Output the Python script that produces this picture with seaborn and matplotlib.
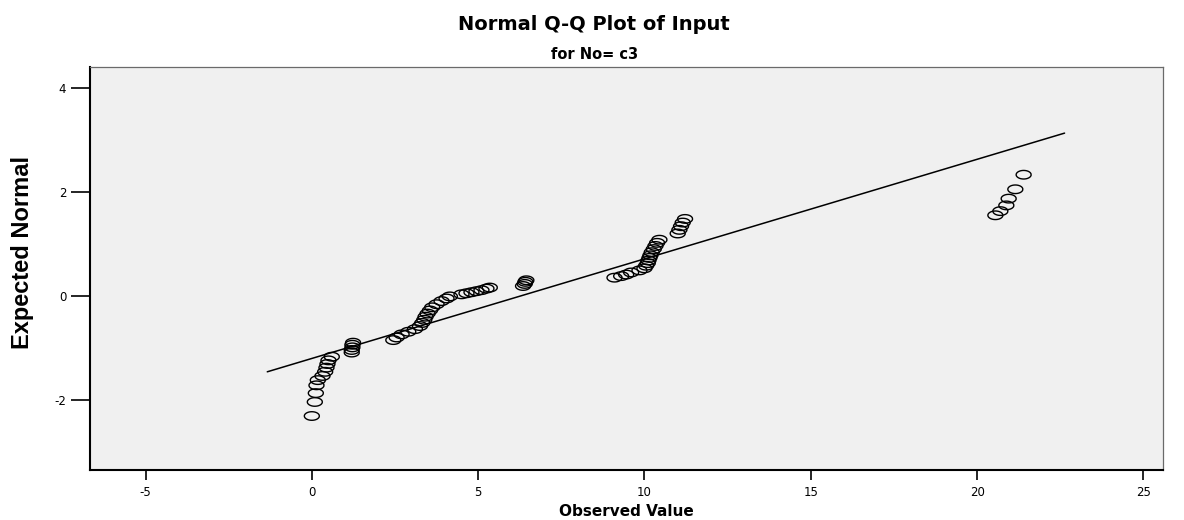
"""
Normal Q-Q plot of Input (No = c3), SPSS-style
"""
import numpy as np
import pandas as pd
import matplotlib
matplotlib.use('Agg')
import matplotlib.pyplot as plt
from matplotlib.path import Path
import seaborn as sns

# ============ data ============
observed = [
    0.00, 0.09, 0.12, 0.14, 0.18, 0.32, 0.40, 0.44, 0.47, 0.50, 0.60,
    1.20, 1.20, 1.22, 1.22, 1.24,
    2.45, 2.55, 2.70, 2.90, 3.10, 3.25, 3.32, 3.38, 3.42, 3.48, 3.55, 3.62, 3.75, 3.90, 4.05, 4.15,
    4.50, 4.65, 4.80, 4.95, 5.10, 5.25, 5.35,
    6.35, 6.40, 6.42, 6.45,
    9.10, 9.30, 9.45, 9.60, 9.85, 10.00, 10.05, 10.10, 10.12, 10.15, 10.18, 10.22, 10.28, 10.33, 10.38, 10.45,
    11.00, 11.05, 11.10, 11.15, 11.22,
    20.55, 20.70, 20.88, 20.95, 21.15, 21.40,
]
expected = [
    -2.31, -2.04, -1.87, -1.72, -1.62, -1.54, -1.46, -1.38, -1.31, -1.24, -1.17,
    -1.09, -1.04, -0.99, -0.94, -0.90,
    -0.85, -0.80, -0.74, -0.69, -0.64, -0.58, -0.52, -0.46, -0.40, -0.34, -0.28, -0.22, -0.16, -0.10, -0.05, -0.01,
    0.03, 0.05, 0.07, 0.09, 0.11, 0.14, 0.16,
    0.19, 0.23, 0.27, 0.30,
    0.35, 0.38, 0.41, 0.45, 0.49, 0.53, 0.58, 0.63, 0.68, 0.73, 0.78, 0.84, 0.90, 0.96, 1.02, 1.08,
    1.20, 1.27, 1.34, 1.41, 1.48,
    1.55, 1.63, 1.74, 1.87, 2.05, 2.33,
]
# reference line end points
line_x = [-1.34, 22.63]
line_y = [-1.46, 3.13]

x_ticks = [-5, 0, 5, 10, 15, 20, 25]
y_ticks = [-2, 0, 2, 4]
# ==================================================

df = pd.DataFrame({'Observed Value': observed, 'Expected Normal': expected})
df_line = pd.DataFrame({'x': line_x, 'y': line_y})

sns.set_style('white')
plt.rcParams['font.family'] = ['DejaVu Sans']
plt.rcParams['axes.unicode_minus'] = False
for key in ['text.color', 'axes.labelcolor', 'xtick.color', 'ytick.color']:
    plt.rcParams[key] = 'black'

fig = plt.figure(figsize=(11.84, 5.2), dpi=100)
ax = fig.add_axes([0.076, 0.096, 0.906, 0.776])
ax.set_facecolor('#f0f0f0')

# wide ring marker, like the stretched SPSS output
t = np.linspace(0, 2 * np.pi, 40)
ring = Path(np.column_stack([1.75 * np.cos(t), np.sin(t)]))

sns.lineplot(data=df_line, x='x', y='y', color='black', linewidth=1.1, ax=ax)
sns.scatterplot(data=df, x='Observed Value', y='Expected Normal', marker=ring, s=117,
                facecolor='none', edgecolor='black', linewidth=1.0, ax=ax, zorder=3)

ax.set_xlim(-6.67, 25.58)
ax.set_ylim(-3.35, 4.41)
ax.set_xticks(x_ticks)
ax.set_yticks(y_ticks)
ax.tick_params(axis='both', direction='out', width=1.2, color='black',
               labelsize=8.5, bottom=True, left=True)
ax.tick_params(axis='x', length=7, pad=4.5)
ax.tick_params(axis='y', length=14, pad=3)

for side in ['left', 'bottom']:
    ax.spines[side].set_color('black')
    ax.spines[side].set_linewidth(1.5)
for side in ['top', 'right']:
    ax.spines[side].set_color('#6a6a6a')
    ax.spines[side].set_linewidth(0.9)

ax.set_xlabel('')
ax.set_ylabel('')

fig.text(0.502, 0.953, 'Normal Q-Q Plot of Input', ha='center', va='center',
         fontsize=14, fontweight='bold')
fig.text(0.502, 0.896, 'for No= c3', ha='center', va='center',
         fontsize=10.5, fontweight='bold')
fig.text(0.529, 0.016, 'Observed Value', ha='center', va='center',
         fontsize=11, fontweight='bold')
fig.text(0.019, 0.515, 'Expected Normal', ha='center', va='center', rotation=90,
         fontsize=17, fontweight='bold', family=['Liberation Sans', 'DejaVu Sans'])

plt.savefig('out.png', dpi=100)
